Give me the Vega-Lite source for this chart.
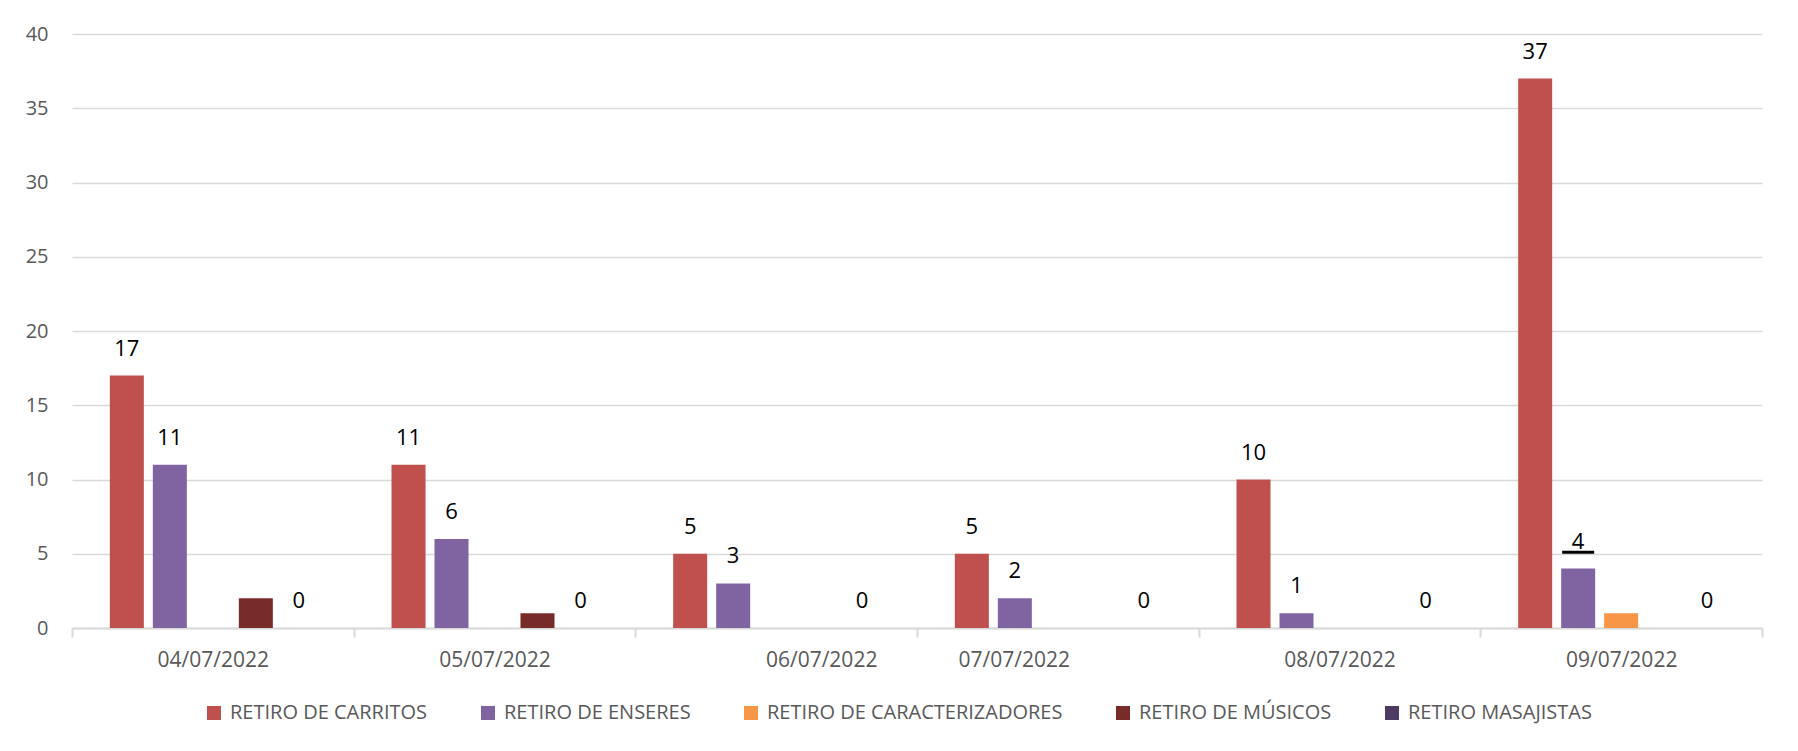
{
  "$schema": "https://vega.github.io/schema/vega-lite/v6.json",
  "width": 1690,
  "height": 594,
  "autosize": {"type": "none"},
  "padding": {"left": 72, "top": 34, "right": 36, "bottom": 123},
  "background": "white",
  "config": {"view": {"stroke": null}, "font": "Open Sans"},
  "data": {
    "values": [
      {"fecha": "04/07/2022", "serie": "RETIRO DE CARRITOS", "valor": 17},
      {"fecha": "04/07/2022", "serie": "RETIRO DE ENSERES", "valor": 11},
      {"fecha": "04/07/2022", "serie": "RETIRO DE CARACTERIZADORES", "valor": 0},
      {"fecha": "04/07/2022", "serie": "RETIRO DE MÚSICOS", "valor": 2},
      {"fecha": "04/07/2022", "serie": "RETIRO MASAJISTAS", "valor": 0},
      {"fecha": "05/07/2022", "serie": "RETIRO DE CARRITOS", "valor": 11},
      {"fecha": "05/07/2022", "serie": "RETIRO DE ENSERES", "valor": 6},
      {"fecha": "05/07/2022", "serie": "RETIRO DE CARACTERIZADORES", "valor": 0},
      {"fecha": "05/07/2022", "serie": "RETIRO DE MÚSICOS", "valor": 1},
      {"fecha": "05/07/2022", "serie": "RETIRO MASAJISTAS", "valor": 0},
      {"fecha": "06/07/2022", "serie": "RETIRO DE CARRITOS", "valor": 5},
      {"fecha": "06/07/2022", "serie": "RETIRO DE ENSERES", "valor": 3},
      {"fecha": "06/07/2022", "serie": "RETIRO DE CARACTERIZADORES", "valor": 0},
      {"fecha": "06/07/2022", "serie": "RETIRO DE MÚSICOS", "valor": 0},
      {"fecha": "06/07/2022", "serie": "RETIRO MASAJISTAS", "valor": 0},
      {"fecha": "07/07/2022", "serie": "RETIRO DE CARRITOS", "valor": 5},
      {"fecha": "07/07/2022", "serie": "RETIRO DE ENSERES", "valor": 2},
      {"fecha": "07/07/2022", "serie": "RETIRO DE CARACTERIZADORES", "valor": 0},
      {"fecha": "07/07/2022", "serie": "RETIRO DE MÚSICOS", "valor": 0},
      {"fecha": "07/07/2022", "serie": "RETIRO MASAJISTAS", "valor": 0},
      {"fecha": "08/07/2022", "serie": "RETIRO DE CARRITOS", "valor": 10},
      {"fecha": "08/07/2022", "serie": "RETIRO DE ENSERES", "valor": 1},
      {"fecha": "08/07/2022", "serie": "RETIRO DE CARACTERIZADORES", "valor": 0},
      {"fecha": "08/07/2022", "serie": "RETIRO DE MÚSICOS", "valor": 0},
      {"fecha": "08/07/2022", "serie": "RETIRO MASAJISTAS", "valor": 0},
      {"fecha": "09/07/2022", "serie": "RETIRO DE CARRITOS", "valor": 37},
      {"fecha": "09/07/2022", "serie": "RETIRO DE ENSERES", "valor": 4},
      {"fecha": "09/07/2022", "serie": "RETIRO DE CARACTERIZADORES", "valor": 1},
      {"fecha": "09/07/2022", "serie": "RETIRO DE MÚSICOS", "valor": 0},
      {"fecha": "09/07/2022", "serie": "RETIRO MASAJISTAS", "valor": 0}
    ]
  },
  "encoding": {
    "x": {
      "field": "fecha",
      "type": "nominal",
      "sort": null,
      "scale": {"paddingInner": 0, "paddingOuter": 0},
      "axis": {
        "title": null,
        "labelAngle": 0,
        "labelFontSize": 21,
        "labelColor": "#595959",
        "labelFont": "Open Sans",
        "domainColor": "#d9d9d9",
        "domainWidth": 2,
        "tickColor": "#d9d9d9",
        "tickWidth": 2,
        "tickSize": 9,
        "tickBand": "extent",
        "labelPadding": 12,
        "grid": false,
        "labelOffset": {
          "condition": [
            {"test": "datum.value === '06/07/2022'", "value": 45},
            {"test": "datum.value === '07/07/2022'", "value": -44}
          ],
          "value": 0
        }
      }
    },
    "xOffset": {
      "field": "serie",
      "type": "nominal",
      "scale": {
        "domain": ["RETIRO DE CARRITOS", "RETIRO DE ENSERES", "RETIRO DE CARACTERIZADORES", "RETIRO DE MÚSICOS", "RETIRO MASAJISTAS"],
        "paddingInner": 0.209,
        "paddingOuter": 0.88
      }
    },
    "y": {
      "field": "valor",
      "type": "quantitative",
      "scale": {"domain": [0, 40], "nice": false},
      "axis": {
        "title": null,
        "values": [0, 5, 10, 15, 20, 25, 30, 35, 40],
        "domain": false,
        "ticks": false,
        "tickSize": 0,
        "labelPadding": 24,
        "labelFontSize": 20,
        "labelColor": "#595959",
        "labelFont": "Open Sans",
        "gridColor": "#d9d9d9",
        "gridWidth": 1.5
      }
    }
  },
  "layer": [
    {
      "mark": {"type": "bar"},
      "encoding": {
        "color": {
          "field": "serie",
          "type": "nominal",
          "scale": {
            "domain": ["RETIRO DE CARRITOS", "RETIRO DE ENSERES", "RETIRO DE CARACTERIZADORES", "RETIRO DE MÚSICOS", "RETIRO MASAJISTAS"],
            "range": ["#C0504D", "#8064A2", "#F79646", "#772C2A", "#4D3B62"]
          },
          "legend": {
            "title": null,
            "orient": "none",
            "legendX": 132,
            "legendY": 669,
            "direction": "horizontal",
            "symbolType": "square",
            "symbolSize": 196,
            "symbolStrokeWidth": 0,
            "labelFontSize": 20,
            "labelFont": "Open Sans",
            "labelColor": "#595959",
            "labelLimit": 500,
            "labelOffset": 6,
            "columnPadding": 50
          }
        }
      }
    },
    {
      "transform": [
        {"filter": "indexof(['RETIRO DE CARRITOS','RETIRO DE ENSERES','RETIRO MASAJISTAS'], datum.serie) >= 0"}
      ],
      "mark": {"type": "text", "baseline": "alphabetic", "dy": -20, "fontSize": 22, "color": "black", "font": "Open Sans"},
      "encoding": {"text": {"field": "valor", "type": "quantitative"}}
    },
    {
      "data": {"values": [{"fecha": "09/07/2022", "serie": "RETIRO DE ENSERES", "valor": 5.1}]},
      "mark": {"type": "tick", "orient": "horizontal", "size": 32, "thickness": 3, "color": "black", "opacity": 1, "xOffset": -10},
      "encoding": {}
    }
  ]
}
